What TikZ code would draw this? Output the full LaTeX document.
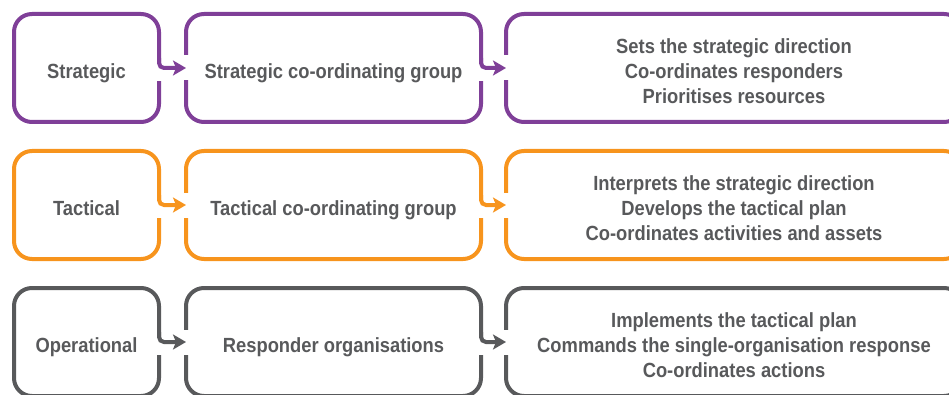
\documentclass[tikz,border=0pt]{standalone}
\usepackage{fontspec}
\setmainfont{Liberation Sans}[FakeStretch=0.895]
\usetikzlibrary{positioning,calc,arrows.meta}

\definecolor{levelpurple}{HTML}{7F3F98}
\definecolor{levelorange}{HTML}{F7941D}
\definecolor{levelgray}{HTML}{58595B}
\definecolor{textgray}{HTML}{58595B}

\begin{document}
\begin{tikzpicture}[%
    x=1pt, y=1pt,
    levelbox/.style={
        draw=#1,
        line width=4pt,
        rounded corners=18pt,
        minimum height=108pt,
        inner sep=0pt,
        outer sep=0pt,
        align=center,
        text=textgray,
        text height=26.2pt,
        text depth=4.5pt,
        font=\fontsize{20.5}{25}\selectfont\bfseries
    },
    threelines/.style={text height=76.2pt},
    flowarrow/.style={
        draw=#1,
        line width=4pt,
        rounded corners=5pt,
        -{Stealth[length=13pt,width=15pt,inset=3pt]}
    }
]
    % Fix the page to the size of the picture.
    \useasboundingbox (0,0) rectangle (949,394);
    \clip (0,0) rectangle (949,394);

    % Strategic level.
    \node[levelbox=levelpurple, minimum width=145pt] (strat) at (86.5,326) {Strategic};
    \node[levelbox=levelpurple, minimum width=295pt, right=27pt of strat] (stratgroup)
        {Strategic co-ordinating group};
    \node[levelbox=levelpurple, threelines, minimum width=456pt, right=25pt of stratgroup] (stratrole)
        {Sets the strategic direction\\Co-ordinates responders\\Prioritises resources};

    % Tactical level.
    \node[levelbox=levelorange, minimum width=145pt, below=29pt of strat] (tact) {Tactical};
    \node[levelbox=levelorange, minimum width=295pt, right=27pt of tact] (tactgroup)
        {Tactical co-ordinating group};
    \node[levelbox=levelorange, threelines, minimum width=456pt, right=25pt of tactgroup] (tactrole)
        {Interprets the strategic direction\\Develops the tactical plan\\Co-ordinates activities and assets};

    % Operational level.
    \node[levelbox=levelgray, minimum width=145pt, below=29pt of tact] (oper) {Operational};
    \node[levelbox=levelgray, minimum width=295pt, right=27pt of oper] (opergroup)
        {Responder organisations};
    \node[levelbox=levelgray, threelines, minimum width=456pt, right=25pt of opergroup] (operrole)
        {Implements the tactical plan\\Commands the single-organisation response\\Co-ordinates actions};

    % Openings in the box sides where the arrows pass.
    \foreach \from/\to in {strat/stratgroup, stratgroup/stratrole,
                           tact/tactgroup, tactgroup/tactrole,
                           oper/opergroup, opergroup/operrole} {
        \fill[white] ($(\from.east)+(-3,4)$) rectangle ($(\from.east)+(3,-13)$);
        \fill[white] ($(\to.west)+(-3,12.5)$) rectangle ($(\to.west)+(3,-12.5)$);
    }

    % Arrows leaving the right side of each box.
    \draw[flowarrow=levelpurple] ($(strat.east)+(0,10)$) -- (strat.east) -- (stratgroup.west);
    \draw[flowarrow=levelpurple] ($(stratgroup.east)+(0,10)$) -- (stratgroup.east) -- (stratrole.west);
    \draw[flowarrow=levelorange] ($(tact.east)+(0,10)$) -- (tact.east) -- (tactgroup.west);
    \draw[flowarrow=levelorange] ($(tactgroup.east)+(0,10)$) -- (tactgroup.east) -- (tactrole.west);
    \draw[flowarrow=levelgray] ($(oper.east)+(0,10)$) -- (oper.east) -- (opergroup.west);
    \draw[flowarrow=levelgray] ($(opergroup.east)+(0,10)$) -- (opergroup.east) -- (operrole.west);
\end{tikzpicture}
\end{document}
